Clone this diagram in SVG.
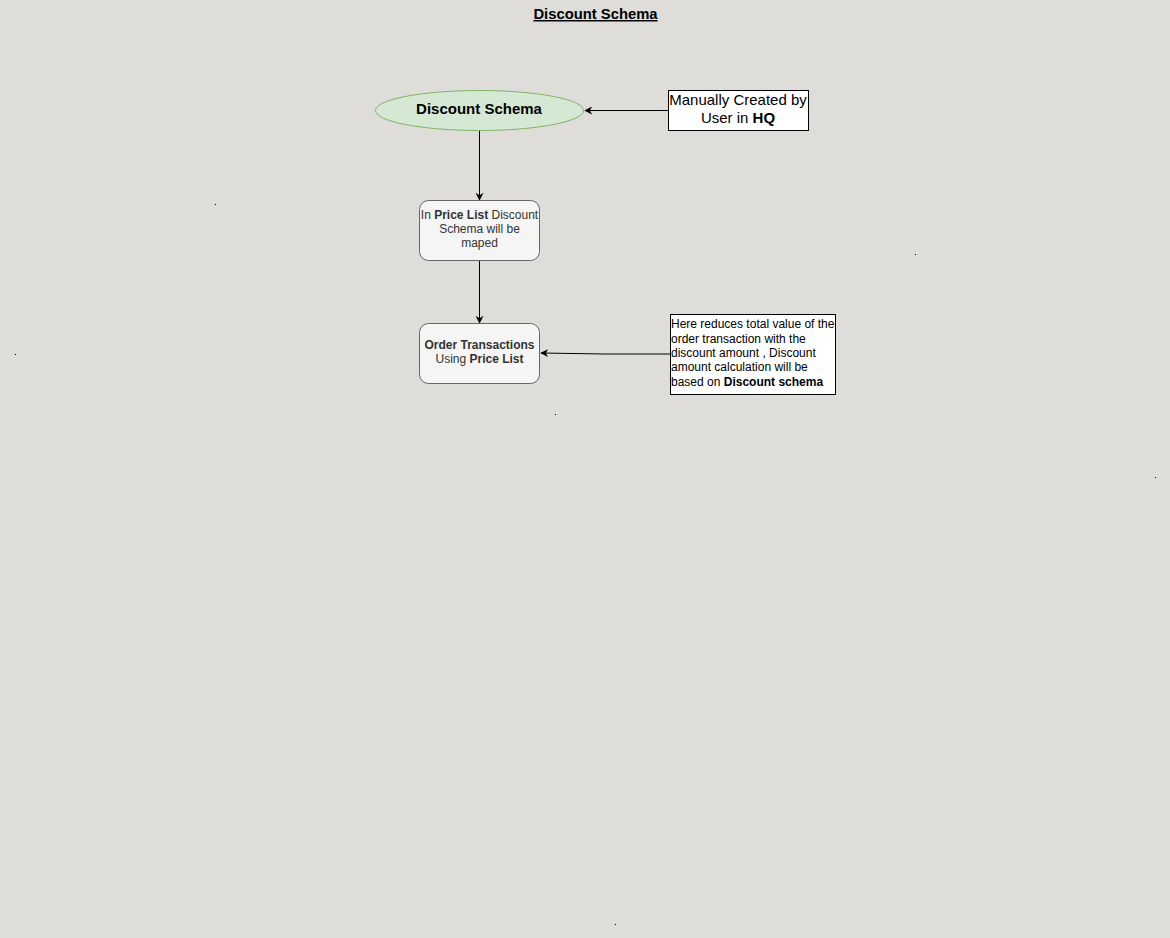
<svg xmlns="http://www.w3.org/2000/svg" width="1170" height="938" viewBox="0 0 1170 938">
<defs>
<style>
text{font-family:"Liberation Sans",Arial,sans-serif}
.c{fill:none;stroke:#000;stroke-width:1}
.rr{fill:#f5f5f5;stroke:#666;stroke-width:1}
.bx{fill:#fff;stroke:#000;stroke-width:1}
.t12{font-size:12px;fill:#333}
.dot{fill:#000}
</style>
<marker id="ah" viewBox="0 0 10 10" refX="9" refY="5" markerWidth="8" markerHeight="8" markerUnits="userSpaceOnUse" orient="auto">
<path d="M0,0 L10,5 L0,10 L3,5 Z" fill="#000"/>
</marker>
</defs>
<rect width="1170" height="938" fill="#deddd9"/>
<text x="595.5" y="19" text-anchor="middle" font-size="14.8" font-weight="bold" text-decoration="underline" fill="#000">Discount Schema</text>
<g id="dots">
<rect class="dot" x="215" y="204" width="1" height="1"/>
<rect class="dot" x="915" y="254" width="1" height="1"/>
<rect class="dot" x="15" y="354" width="1" height="1"/>
<rect class="dot" x="555" y="414" width="1" height="1"/>
<rect class="dot" x="1155" y="477" width="1" height="1"/>
<rect class="dot" x="615" y="924" width="1" height="1"/>
</g>
<g id="connectors">
<path class="c" d="M668,110.5 L585,110.5" marker-end="url(#ah)"/>
<path class="c" d="M479.5,130 L479.5,200" marker-end="url(#ah)"/>
<path class="c" d="M479.5,260 L479.5,323" marker-end="url(#ah)"/>
<path class="c" d="M670,354 L605,354 L541,353" marker-end="url(#ah)"/>
</g>
<g id="n-schema">
<ellipse cx="479.5" cy="110.5" rx="104" ry="20" fill="#d5e8d4" stroke="#82b366"/>
<text x="479" y="114" text-anchor="middle" font-size="15" font-weight="bold" fill="#000">Discount Schema</text>
</g>
<g id="n-manual">
<rect class="bx" x="668.5" y="90.5" width="140" height="40"/>
<text x="738" y="105" text-anchor="middle" font-size="15" fill="#000">Manually Created by</text>
<text x="738" y="123" text-anchor="middle" font-size="15" fill="#000">User in <tspan font-weight="bold">HQ</tspan></text>
</g>
<g id="n-pricelist">
<rect class="rr" x="419.5" y="200.5" width="120" height="60" rx="9"/>
<text class="t12" x="479.5" y="219" text-anchor="middle">In <tspan font-weight="bold">Price List</tspan> Discount</text>
<text class="t12" x="479.5" y="233" text-anchor="middle">Schema will be</text>
<text class="t12" x="479.5" y="247" text-anchor="middle">maped</text>
</g>
<g id="n-order">
<rect class="rr" x="419.5" y="323.5" width="120" height="60" rx="9"/>
<text class="t12" x="479.5" y="349" text-anchor="middle" font-weight="bold">Order Transactions</text>
<text class="t12" x="479.5" y="363" text-anchor="middle">Using <tspan font-weight="bold">Price List</tspan></text>
</g>
<g id="n-note">
<rect class="bx" x="670.5" y="314.5" width="165" height="80"/>
<g font-size="12" fill="#000">
<text x="671" y="328">Here reduces total value of the</text>
<text x="671" y="343">order transaction with the</text>
<text x="671" y="357">discount amount , Discount</text>
<text x="671" y="371">amount calculation will be</text>
<text x="671" y="386">based on <tspan font-weight="bold">Discount schema</tspan></text>
</g>
</g>
</svg>
